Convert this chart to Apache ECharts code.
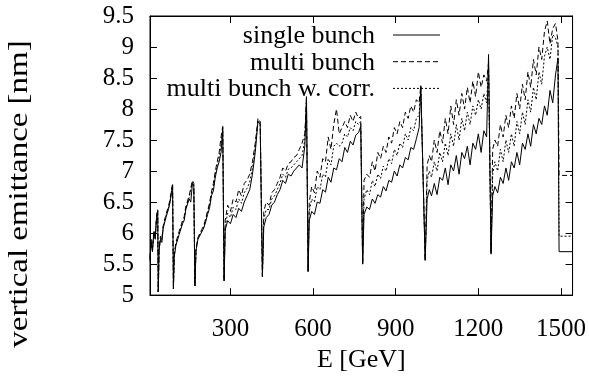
<!DOCTYPE html>
<html>
<head>
<meta charset="utf-8">
<title>vertical emittance</title>
<script src="https://cdn.jsdelivr.net/npm/echarts@6/dist/echarts.min.js"></script>
<style>
    html, body { margin: 0; padding: 0; background: #fff; }
    #chart { width: 589px; height: 378px; }
</style>
</head>
<body>
<div id="chart"></div>
<script>
// beam energy [GeV], shared by all three curves
const energy = [
    8, 12, 17, 22, 27, 32, 36, 38,
    41, 46, 51, 56, 61, 66, 71, 76, 81, 86, 90, 93,
    96, 102, 108, 114, 120, 126, 132, 138, 144, 150, 156, 162, 167, 171,
    175, 182, 189, 196, 203, 210, 217, 224, 231, 238, 245, 252, 259, 266, 272, 277,
    281, 290, 300, 310, 320, 330, 340, 350, 360, 370, 380, 390, 400, 408, 416,
    421, 430, 440, 450, 460, 470, 480, 490, 500, 510, 520, 530, 540, 550, 560, 570, 576, 582,
    586, 595, 605, 615, 625, 635, 645, 655, 665, 675, 685, 695, 705, 715, 725, 735, 745, 755, 765, 773, 780,
    785, 795, 805, 815, 825, 835, 845, 855, 865, 875, 885, 895, 905, 915, 925, 935, 945, 955, 965, 975, 985, 991, 1007,
    1014, 1022, 1030, 1040, 1050, 1060, 1070, 1080, 1090, 1100, 1110, 1120, 1130, 1140, 1150, 1160, 1170, 1180, 1190, 1200, 1210, 1220, 1230, 1237, 1246,
    1252, 1260, 1270, 1280, 1290, 1300, 1310, 1320, 1330, 1340, 1350, 1360, 1370, 1380, 1390, 1400, 1410, 1420, 1430, 1440, 1450, 1460, 1470, 1480, 1489, 1493, 1542
];

// vertical emittance [nm]
const singleBunch = [
    5.55, 5.85, 5.7, 6.0, 5.9, 6.25, 6.35, 5.05,
    5.72, 5.9, 5.85, 6.08, 6.05, 6.25, 6.22, 6.4, 6.5, 6.65, 6.76, 5.1,
    5.62, 5.8, 5.78, 5.98, 5.95, 6.15, 6.2, 6.38, 6.35, 6.55, 6.5, 6.8, 6.75, 5.15,
    5.72, 5.9, 5.88, 6.02, 6.08, 6.18, 6.3, 6.4, 6.6, 6.68, 6.9, 7.05, 7.15, 7.3, 7.7, 5.23,
    6.05, 6.2, 6.15, 6.3, 6.25, 6.4, 6.35, 6.5, 6.6, 6.7, 6.95, 7.3, 7.8, 7.75, 5.3,
    6.1, 6.25, 6.3, 6.45, 6.5, 6.62, 6.7, 6.85, 6.8, 6.95, 6.92, 7.0, 7.05, 7.1, 7.05, 7.4, 8.2, 5.38,
    6.2, 6.35, 6.3, 6.5, 6.48, 6.7, 6.66, 6.9, 6.82, 7.05, 7.02, 7.2, 7.15, 7.38, 7.3, 7.48, 7.42, 7.58, 7.62, 7.72, 5.5,
    6.3, 6.42, 6.38, 6.55, 6.48, 6.62, 6.58, 6.75, 6.68, 6.85, 6.82, 7.0, 6.92, 7.1, 7.05, 7.22, 7.18, 7.38, 7.35, 7.52, 7.7, 8.36, 5.56,
    6.55, 6.7, 6.6, 6.8, 6.62, 6.9, 6.85, 7.05, 6.78, 7.1, 7.0, 7.25, 6.95, 7.3, 7.2, 7.4, 7.1, 7.45, 7.35, 7.6, 7.3, 7.65, 7.55, 8.88, 5.66,
    6.6, 6.75, 6.65, 6.9, 6.8, 7.05, 6.85, 7.15, 7.05, 7.3, 7.1, 7.45, 7.35, 7.6, 7.4, 7.75, 7.6, 7.85, 7.75, 8.05, 7.9, 8.3, 8.1, 8.55, 8.82, 5.7, 5.7
];

const multiBunch = [
    5.6, 5.9, 5.75, 6.05, 5.95, 6.3, 6.38, 5.05,
    5.75, 5.95, 5.9, 6.12, 6.1, 6.3, 6.28, 6.45, 6.55, 6.7, 6.8, 5.1,
    5.65, 5.85, 5.82, 6.03, 6.0, 6.2, 6.26, 6.43, 6.42, 6.6, 6.58, 6.85, 6.8, 5.15,
    5.74, 5.93, 5.92, 6.06, 6.12, 6.23, 6.36, 6.48, 6.66, 6.8, 7.0, 7.15, 7.3, 7.55, 7.72, 5.23,
    6.2, 6.45, 6.35, 6.55, 6.5, 6.7, 6.6, 6.8, 6.85, 6.95, 7.15, 7.45, 7.85, 7.8, 5.3,
    6.35, 6.5, 6.45, 6.65, 6.7, 6.8, 6.9, 7.05, 7.0, 7.12, 7.15, 7.22, 7.25, 7.35, 7.45, 7.6, 8.15, 5.38,
    6.5, 6.75, 6.65, 7.0, 6.9, 7.2, 7.15, 7.55, 7.35, 7.75, 8.0, 7.6, 7.7, 7.8, 7.7, 7.9, 7.8, 7.95, 7.85, 7.88, 5.5,
    6.85, 6.95, 6.9, 7.15, 7.0, 7.3, 7.2, 7.4, 7.3, 7.55, 7.45, 7.7, 7.6, 7.8, 7.7, 7.95, 7.85, 8.05, 7.95, 8.15, 8.1, 8.38, 5.56,
    7.1, 7.25, 7.15, 7.5, 7.3, 7.65, 7.45, 7.85, 7.6, 8.05, 7.75, 8.15, 7.9, 8.25, 8.0, 8.35, 8.1, 8.45, 8.2, 8.6, 8.35, 8.55, 8.45, 8.75, 5.7,
    7.35, 7.5, 7.4, 7.75, 7.55, 7.9, 7.7, 8.05, 7.85, 8.25, 8.0, 8.4, 8.15, 8.6, 8.35, 8.8, 8.55, 9.0, 8.8, 9.25, 9.42, 9.05, 9.3, 9.38, 9.1, 6.93, 6.93
];

const multiBunchCorr = [
    5.58, 5.88, 5.72, 6.02, 5.92, 6.28, 6.36, 5.05,
    5.74, 5.92, 5.88, 6.1, 6.07, 6.28, 6.25, 6.42, 6.52, 6.68, 6.78, 5.1,
    5.63, 5.82, 5.8, 6.0, 5.97, 6.17, 6.23, 6.4, 6.38, 6.57, 6.54, 6.82, 6.77, 5.15,
    5.73, 5.91, 5.9, 6.04, 6.1, 6.2, 6.33, 6.44, 6.63, 6.74, 6.95, 7.1, 7.22, 7.42, 7.71, 5.23,
    6.12, 6.32, 6.25, 6.42, 6.38, 6.55, 6.48, 6.65, 6.72, 6.82, 7.05, 7.38, 7.82, 7.78, 5.3,
    6.22, 6.38, 6.38, 6.55, 6.6, 6.7, 6.8, 6.95, 6.9, 7.03, 7.05, 7.1, 7.15, 7.2, 7.25, 7.5, 8.17, 5.38,
    6.35, 6.55, 6.5, 6.75, 6.7, 6.95, 6.9, 7.2, 7.1, 7.4, 7.45, 7.4, 7.45, 7.6, 7.55, 7.7, 7.65, 7.8, 7.75, 7.8, 5.5,
    6.55, 6.7, 6.62, 6.85, 6.75, 6.95, 6.88, 7.08, 7.0, 7.2, 7.12, 7.35, 7.25, 7.45, 7.38, 7.6, 7.5, 7.7, 7.65, 7.85, 7.9, 8.37, 5.56,
    6.85, 7.0, 6.9, 7.15, 7.0, 7.3, 7.15, 7.45, 7.25, 7.6, 7.4, 7.75, 7.5, 7.85, 7.65, 7.95, 7.75, 8.05, 7.9, 8.15, 8.0, 8.25, 8.1, 8.7, 5.68,
    6.95, 7.15, 7.0, 7.35, 7.15, 7.5, 7.3, 7.6, 7.4, 7.8, 7.6, 7.95, 7.75, 8.15, 7.95, 8.35, 8.15, 8.6, 8.4, 8.85, 9.0, 8.8, 9.2, 9.15, 9.0, 5.95, 5.95
];

const seriesNames = ['single bunch', 'multi bunch', 'multi bunch w. corr.'];
const xTicks = [300, 600, 900, 1200, 1500];
const xMin = 8, xMax = 1542;
const yMin = 5, yMax = 9.5, yStep = 0.5;

const SERIF = '"Liberation Serif", "Times New Roman", serif';
const dashes = ['solid', [5, 3], [2, 2]];

const zip = (ys) => energy.map((e, i) => [e, ys[i]]);

const chart = echarts.init(document.getElementById('chart'), null, { renderer: 'canvas' });

const tickStyle = { show: true, inside: true, length: 7, lineStyle: { color: '#000', width: 1 } };

// legend drawn by hand: text right aligned, sample line to the right
const legendRows = seriesNames.map((name, i) => {
    const y = 36 + i * 26.7;
    return [
        {
            type: 'text', x: 375, y: y,
            style: { text: name, font: '26px ' + SERIF, fill: '#000',
                     textAlign: 'right', textVerticalAlign: 'middle', align: 'right', verticalAlign: 'middle' }
        },
        {
            type: 'line', shape: { x1: 393, y1: y - 1, x2: 440, y2: y - 1 },
            style: { stroke: '#000', lineWidth: 1, lineDash: i === 0 ? null : dashes[i] }
        }
    ];
}).flat();

chart.setOption({
    animation: false,
    backgroundColor: '#fff',
    grid: { left: 150, top: 16, right: 16, bottom: 72, show: true, borderColor: '#000', borderWidth: 1 },
    xAxis: [
        {
            type: 'value', min: xMin, max: xMax, position: 'bottom',
            name: 'E [GeV]', nameLocation: 'middle', nameGap: 37,
            nameTextStyle: { fontFamily: SERIF, fontSize: 26, color: '#000' },
            axisLine: { show: true, lineStyle: { color: '#000' } },
            axisTick: { ...tickStyle, customValues: xTicks },
            axisLabel: { customValues: xTicks, margin: 22, fontFamily: SERIF, fontSize: 25, color: '#000',
                         formatter: (v) => String(v) },
            splitLine: { show: false }
        },
        {
            type: 'value', min: xMin, max: xMax, position: 'top',
            axisLine: { show: true, lineStyle: { color: '#000' } },
            axisTick: { ...tickStyle, customValues: xTicks },
            axisLabel: { show: false },
            splitLine: { show: false }
        }
    ],
    yAxis: [
        {
            type: 'value', min: yMin, max: yMax, interval: yStep, position: 'left',
            axisLine: { show: true, lineStyle: { color: '#000' } },
            axisTick: tickStyle,
            axisLabel: { margin: 16, fontFamily: SERIF, fontSize: 25, color: '#000', showMinLabel: true, showMaxLabel: true },
            splitLine: { show: false }
        },
        {
            type: 'value', min: yMin, max: yMax, interval: yStep, position: 'right',
            axisLine: { show: true, lineStyle: { color: '#000' } },
            axisTick: tickStyle,
            axisLabel: { show: false },
            splitLine: { show: false }
        }
    ],
    graphic: [
        {
            // y axis title, a little stretched along its length like the original
            type: 'text', x: 20, y: 194, rotation: Math.PI / 2, scaleX: 1.22,
            style: { text: 'vertical emittance [nm]', font: '27px ' + SERIF, fill: '#000',
                     textAlign: 'center', textVerticalAlign: 'middle', align: 'center', verticalAlign: 'middle' }
        },
        ...legendRows
    ],
    series: [singleBunch, multiBunch, multiBunchCorr].map((ys, i) => ({
        name: seriesNames[i],
        type: 'line',
        data: zip(ys),
        showSymbol: false,
        symbol: 'none',
        clip: true,
        lineStyle: { color: '#000', width: 1, type: dashes[i] }
    }))
});
</script>
</body>
</html>
